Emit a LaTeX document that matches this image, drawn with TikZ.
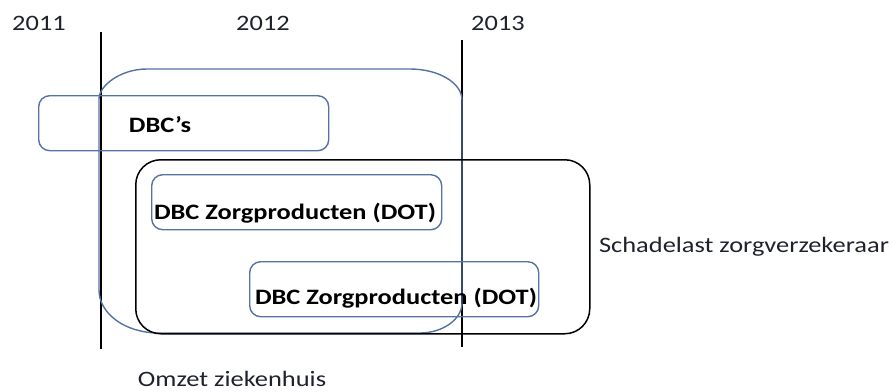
\documentclass[tikz,border=0pt]{standalone}
\usepackage{fontspec}
\setmainfont{Carlito}[FakeStretch=1.2]
\definecolor{bluel}{RGB}{84,114,162}
\definecolor{txt}{RGB}{30,34,45}
\begin{document}
\begin{tikzpicture}[x=1pt,y=-1pt,
  bluebox/.style={draw=bluel,line width=1.4pt,rounded corners=11pt,inner sep=0pt,anchor=north west},
  blackbox/.style={draw=black,line width=1.5pt,rounded corners=25pt,inner sep=0pt,anchor=north west},
  yearline/.style={draw=black,line width=1.8pt},
  lbl/.style={text=txt,font=\fontsize{22}{26}\selectfont,inner sep=0pt,anchor=base},
  blbl/.style={text=black,font=\fontsize{22}{26}\selectfont\bfseries,inner sep=0pt,anchor=base}]
\useasboundingbox (0,0) rectangle (896,391);
% year labels
\node[lbl] (y11) at (39,30) {2011};
\node[lbl] (y12) at (263,30) {2012};
\node[lbl] (y13) at (498,30) {2013};
% year lines
\coordinate (l1t) at (101,32);
\coordinate (l1b) at (101,349);
\coordinate (l2t) at (462,40);
\coordinate (l2b) at (462,347);
\draw[yearline] (l1t) -- (l1b);
\draw[yearline] (l2t) -- (l2b);
% Omzet ziekenhuis (big blue rounded shape)
\draw[draw=bluel,line width=1.4pt]
  (99,99) .. controls (99,85.6) and (120.5,69) .. (147,69)
  -- (410,69) .. controls (438.6,69) and (462,82.9) .. (462,100)
  -- (462,303) .. controls (462,319.6) and (442.2,333) .. (420,333)
  -- (159,333) .. controls (125.2,333) and (99,313.8) .. (99,290) -- cycle;
% Schadelast box
\node[blackbox,minimum width=454pt,minimum height=174pt] (schade) at (135,159) {};
% DBC boxes
\node[bluebox,minimum width=290pt,minimum height=55pt] (dbcs) at (38,95) {};
\node[bluebox,minimum width=290pt,minimum height=55pt] (dot1) at (151,174) {};
\node[bluebox,minimum width=289pt,minimum height=55pt] (dot2) at (249,261) {};
% texts
\node[blbl] (tdbcs) at (160,132) {DBC’s};
\node[blbl] (tdot1) at (295,219) {DBC Zorgproducten (DOT)};
\node[blbl] (tdot2) at (396,304) {DBC Zorgproducten (DOT)};
\node[lbl] (tschade) at (744,252) {Schadelast zorgverzekeraar};
\node[lbl] (tomzet) at (232,386) {Omzet ziekenhuis};
\end{tikzpicture}
\end{document}
